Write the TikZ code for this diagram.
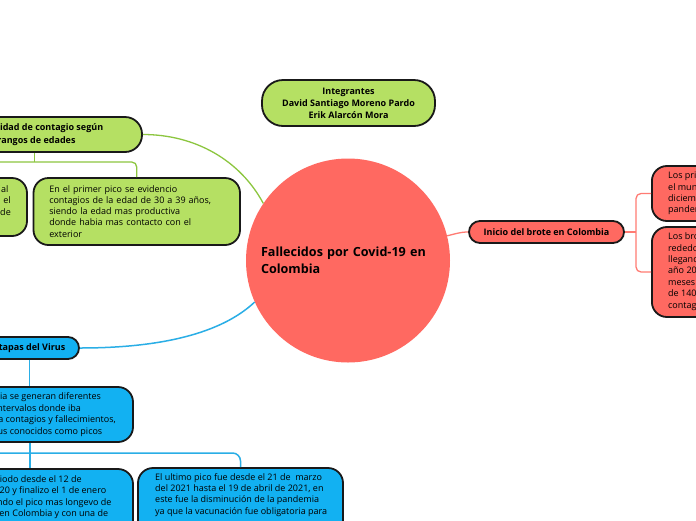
\documentclass[tikz,border=0pt]{standalone}
\usepackage{fontspec}
\setmainfont{Open Sans}
\definecolor{gfill}{HTML}{B5E063}
\definecolor{rfill}{HTML}{FF6961}
\definecolor{bfill}{HTML}{12B1F2}
\definecolor{glin}{HTML}{8CC63F}
\definecolor{rlin}{HTML}{FF7B73}
\definecolor{blin}{HTML}{2AAEE6}
\tikzset{
  box/.style={draw=black!90, line width=1.8pt, inner sep=0pt},
  bodyfont/.style={font=\fontsize{9}{11.4}\selectfont},
  headfont/.style={font=\bfseries\fontsize{9}{12.5}\selectfont},
  txt/.style={inner sep=0pt, align=left, anchor=west},
  gl/.style={draw=glin, line width=1.3pt},
  rl/.style={draw=rlin, line width=1.3pt},
  bl/.style={draw=blin, line width=1.5pt},
}
\begin{document}
\begin{tikzpicture}[x=1pt,y=-1pt]
\useasboundingbox (0,0) rectangle (696,520);
\fill[white] (0,0) rectangle (696,520);
\clip (0,0) rectangle (696,520);

% central topic
\node[circle, fill=rfill, minimum size=204pt, inner sep=0pt, text width=174pt, align=left,
      font=\bfseries\fontsize{12.6}{17.3}\selectfont] (cc) at (348,260.5)
      {Fallecidos por Covid-19 en\\Colombia};

% members
\node[box, fill=gfill, rounded corners=21pt, minimum width=173pt, minimum height=46pt,
      headfont, align=center, font=\bfseries\fontsize{9}{12}\selectfont] (it) at (348.5,103)
      {Integrantes\\David Santiago Moreno Pardo\\Erik Alarcón Mora};

% green branch
\node[box, fill=gfill, rounded corners=17pt, minimum width=211pt, minimum height=35pt,
      headfont, align=center, font=\bfseries\fontsize{9}{13}\selectfont] (gp) at (36.5,134.5)
      {Mortalidad de contagio según\\rangos de edades};
\node[box, fill=gfill, rounded corners=15pt, minimum width=206pt, minimum height=58pt] (g1) at (-76,207) {};
\node[inner sep=0pt, align=right, anchor=east, bodyfont] (g1t) at (11,200.3)
      {ial\hspace*{2.5pt}\\el\hspace*{1.5pt}\\de};
\node[box, fill=gfill, rounded corners=15pt, minimum width=206.5pt, minimum height=67pt,
      text width=175pt, align=left, font=\fontsize{9}{11.1}\selectfont] (g2) at (136.75,211.5)
      {En el primer pico se evidencio\\contagios de la edad de 30 a 39 años,\\siendo la edad mas productiva\\donde habia mas contacto con el\\exterior};

% red branch
\node[box, fill=rfill, rounded corners=11pt, minimum width=155pt, minimum height=22pt, headfont] (ib) at (546.5,232)
      {Inicio del brote en Colombia};
\node[box, fill=rfill, rounded corners=15pt, minimum width=200pt, minimum height=55pt, anchor=west] (r1) at (651,193.5) {};
\node[txt, bodyfont] (r1t) at (668,193.5)
      {Los primeros casos de Covid-19 en\\el mundo se presentaron en\\diciembre de 2019, dando inicio a la\\pandemia};
\node[box, fill=rfill, rounded corners=15pt, minimum width=200pt, minimum height=90pt, anchor=west] (r2) at (651,272) {};
\node[txt, bodyfont] (r2t) at (668,271.5)
      {Los brotes se expandieron al\\rededor del mundo\\llegando a Colombia en el\\año 2020, y en pocos\\meses se registraron cerca\\de 140.000 casos de\\contagio};

% blue branch
\node[box, fill=bfill, rounded corners=11pt, minimum width=99pt, minimum height=22pt, headfont] (ep) at (29.5,348)
      {Etapas del Virus};
\node[box, fill=bfill, rounded corners=15pt, minimum width=206pt, minimum height=55pt] (b1) at (30,414.5) {};
\node[txt, font=\fontsize{9}{11.6}\selectfont] (b1t) at (-57.5,414.5)
      {En la pandemia se generan diferentes\\periodos en intervalos donde iba\\en aumento la contagios y fallecimientos,\\brotes del virus conocidos como picos};
\node[box, fill=bfill, rounded corners=15pt, minimum width=206pt, minimum height=100pt] (b2) at (30,519) {};
\node[txt, bodyfont] (b2t) at (-55,497.2)
      {El primer periodo desde el 12 de\\marzo del 2020 y finalizo el 1 de enero\\del 2021, siendo el pico mas longevo de\\la pandemia en Colombia y con una de};
\node[box, fill=bfill, rounded corners=15pt, minimum width=205pt, minimum height=100pt] (b3) at (240.5,518) {};
\node[txt, bodyfont] (b3t) at (155,494.9)
      {El ultimo pico fue desde el 21 de~ marzo\\del 2021 hasta el 19 de abril de 2021, en\\este fue la disminución de la pandemia\\ya que la vacunación fue obligatoria para};

% connectors
\draw[gl] (gp.east) .. controls (195,134.5) and (240,160) .. (cc.146);
\coordinate (gbar) at (34.5,162);
\draw[gl] (gp.south -| gbar) -- (gbar);
\draw[gl, rounded corners=5pt] (g1.north) |- (gbar) -| (g2.north);

\draw[rl] (cc.14) .. controls (455,234) and (460,232) .. (ib.west);
\coordinate (rbar) at (636,232);
\draw[rl] (ib.east) -- (rbar);
\draw[rl, rounded corners=5pt] (r1.west) -| (rbar) |- (r2.west);

\draw[bl] (ep.east) .. controls (170,348) and (225,330) .. (cc.204);
\draw[bl] (ep.south) -- (ep.south |- b1.north);
\coordinate (bleft) at (-80,453);
\draw[bl] (b1.south) -- (b2.north);
\draw[bl, rounded corners=8pt] (bleft) -| (b3.north);
\end{tikzpicture}
\end{document}
